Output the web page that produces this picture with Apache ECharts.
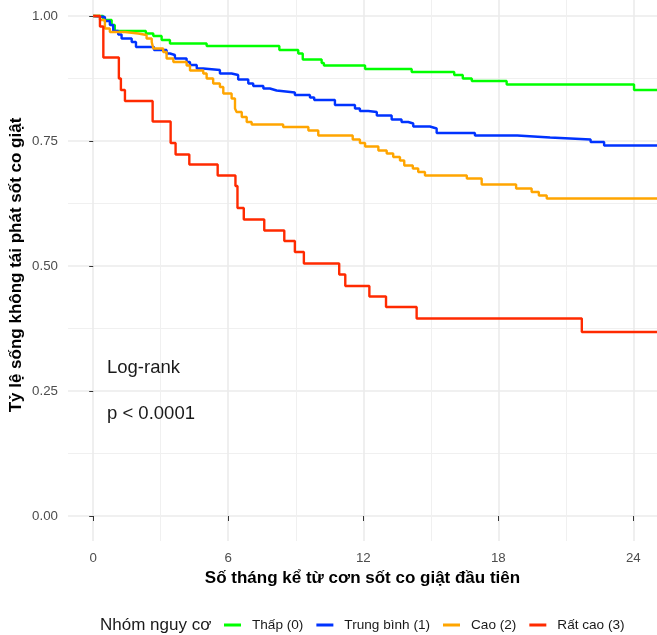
<!DOCTYPE html>
<html>
<head>
<meta charset="utf-8">
<script src="https://cdn.jsdelivr.net/npm/echarts@6/dist/echarts.min.js"></script>
<style>
html,body{margin:0;padding:0;background:#fff;}
#chart{width:657px;height:635px;}
</style>
</head>
<body>
<div id="chart"></div>
<script>
// ---- Data ----
const GROUP_NAMES = ['Thấp (0)', 'Trung bình (1)', 'Cao (2)', 'Rất cao (3)'];
const GROUP_COLORS = ['#00FF00', '#0033FF', '#FFA500', '#FF2A00'];

const TIME_LOW = [0, 0.44, 0.82, 0.96, 2.34, 2.67, 3.04, 3.41, 5.04, 8.27, 9.11, 9.31, 10.15, 10.25, 12.08, 14.15, 16.04, 16.42, 16.82, 18.37, 24.03, 25.5];
const SURV_LOW = [1, 0.992, 0.982, 0.970, 0.965, 0.960, 0.952, 0.945, 0.940, 0.932, 0.925, 0.913, 0.906, 0.901, 0.894, 0.888, 0.882, 0.875, 0.870, 0.863, 0.852, 0.852];

const TIME_MID = [0, 0.08, 0.52, 0.74, 0.89, 1.11, 1.26, 1.71, 1.9, 2.7, 3.26, 3.41, 3.63, 4.15, 4.3, 4.6, 4.89, 5.63, 6.15, 6.44, 6.89, 7.11, 7.56, 7.85, 8.15, 8.96, 9.63, 9.82, 10.74, 11.63, 11.85, 12.22, 12.6, 13.26, 13.7, 14.0, 14.22, 14.96, 15.26, 16.96, 18.84, 20.3, 22.1, 22.7, 25.5];
const SURV_MID = [1, 0.998, 0.990, 0.982, 0.970, 0.963, 0.955, 0.948, 0.938, 0.932, 0.925, 0.922, 0.915, 0.908, 0.902, 0.895, 0.892, 0.885, 0.882, 0.873, 0.865, 0.860, 0.855, 0.851, 0.847, 0.842, 0.837, 0.832, 0.822, 0.815, 0.810, 0.808, 0.801, 0.793, 0.788, 0.785, 0.779, 0.775, 0.766, 0.761, 0.757, 0.753, 0.748, 0.741, 0.741];

const TIME_HIGH = [0, 0.3, 0.52, 0.74, 1.41, 2.0, 2.37, 2.6, 2.67, 3.11, 3.26, 3.56, 4.15, 4.3, 4.89, 5.04, 5.33, 5.63, 5.78, 6.15, 6.3, 6.37, 6.6, 6.82, 7.04, 8.44, 9.56, 10.0, 11.53, 11.85, 12.08, 12.67, 13.04, 13.33, 13.63, 13.82, 14.2, 14.44, 14.74, 16.6, 17.26, 18.79, 19.48, 19.8, 20.15, 25.5];
const SURV_HIGH = [1, 0.992, 0.975, 0.968, 0.965, 0.962, 0.955, 0.948, 0.935, 0.928, 0.915, 0.908, 0.901, 0.891, 0.885, 0.875, 0.865, 0.858, 0.845, 0.835, 0.815, 0.808, 0.798, 0.788, 0.783, 0.778, 0.771, 0.761, 0.753, 0.746, 0.739, 0.731, 0.725, 0.718, 0.711, 0.701, 0.695, 0.688, 0.681, 0.675, 0.663, 0.655, 0.648, 0.641, 0.635, 0.635];

const TIME_VHIGH = [0, 0.3, 0.45, 1.14, 1.23, 1.41, 2.64, 3.44, 3.66, 4.27, 5.53, 6.32, 6.41, 6.69, 7.6, 8.49, 8.96, 9.36, 10.93, 11.2, 12.27, 13.01, 14.37, 21.71, 25.5];
const SURV_VHIGH = [1, 0.979, 0.917, 0.875, 0.852, 0.83, 0.789, 0.746, 0.723, 0.703, 0.681, 0.66, 0.616, 0.593, 0.571, 0.55, 0.528, 0.505, 0.483, 0.46, 0.439, 0.418, 0.395, 0.368, 0.368];

const X_TICKS = [0, 6, 12, 18, 24];
const X_MINOR = [3, 9, 15, 21];
const Y_TICKS = [0, 0.25, 0.5, 0.75, 1];
const Y_MINOR = [0.125, 0.375, 0.625, 0.875];

const X_TITLE = 'Số tháng kể từ cơn sốt co giật đầu tiên';
const Y_TITLE = 'Tỷ lệ sống không tái phát sốt co giật';
const LEGEND_TITLE = 'Nhóm nguy cơ';
const ANNOT_1 = 'Log-rank';
const ANNOT_2 = 'p < 0.0001';

// ---- Layout ----
const X_MIN = -1.12, X_MAX = 25.05;
const Y_MIN = -0.05, Y_MAX = 1.032;
const FONT = '"Liberation Sans", Arial, Helvetica, sans-serif';
const MAJOR = { color: '#EBEBEB', width: 1.6 };
const MINOR = { color: '#F0F0F0', width: 1 };

const times = [TIME_LOW, TIME_MID, TIME_HIGH, TIME_VHIGH];
const survs = [SURV_LOW, SURV_MID, SURV_HIGH, SURV_VHIGH];

const series = GROUP_NAMES.map((name, g) => ({
  name: name,
  type: 'line',
  step: 'end',
  xAxisIndex: 0,
  yAxisIndex: 0,
  showSymbol: false,
  symbol: 'none',
  clip: true,
  animation: false,
  z: 10 + g,
  color: GROUP_COLORS[g],
  lineStyle: { color: GROUP_COLORS[g], width: 2.4 },
  data: times[g].map((t, i) => [t, survs[g][i]])
}));

function hiddenAxis(min, max) {
  return { type: 'value', min: min, max: max, axisLine: { show: false }, axisTick: { show: false },
           axisLabel: { show: false }, splitLine: { show: false } };
}

const option = {
  animation: false,
  backgroundColor: '#ffffff',
  grid: { left: 68, right: 0, top: 0, bottom: 94, containLabel: false },
  xAxis: [
    hiddenAxis(X_MIN, X_MAX),
    { type: 'value', min: X_MIN, max: X_MAX, position: 'bottom',
      axisLine: { show: false },
      axisTick: { show: true, customValues: X_TICKS, length: 5, lineStyle: { color: '#333333', width: 1 } },
      axisLabel: { show: true, customValues: X_TICKS, margin: 11, color: '#4D4D4D', fontSize: 13.3, fontFamily: FONT,
                   formatter: v => String(v) },
      splitLine: { show: true, lineStyle: MAJOR } },
    { type: 'value', min: X_MIN, max: X_MAX, position: 'bottom', offset: 0,
      axisLine: { show: false },
      axisTick: { show: false, customValues: X_MINOR },
      axisLabel: { show: false, customValues: X_MINOR },
      splitLine: { show: true, lineStyle: MINOR } }
  ],
  yAxis: [
    hiddenAxis(Y_MIN, Y_MAX),
    { type: 'value', min: Y_MIN, max: Y_MAX, position: 'left',
      axisLine: { show: false },
      axisTick: { show: true, customValues: Y_TICKS, length: 4, lineStyle: { color: '#333333', width: 1 } },
      axisLabel: { show: true, customValues: Y_TICKS, margin: 10, color: '#4D4D4D', fontSize: 13.3, fontFamily: FONT,
                   formatter: v => v.toFixed(2) },
      splitLine: { show: true, lineStyle: MAJOR } },
    { type: 'value', min: Y_MIN, max: Y_MAX, position: 'left', offset: 0,
      axisLine: { show: false },
      axisTick: { show: false, customValues: Y_MINOR },
      axisLabel: { show: false, customValues: Y_MINOR },
      splitLine: { show: true, lineStyle: MINOR } }
  ],
  legend: {
    data: GROUP_NAMES,
    left: 224,
    top: 618,
    padding: 0,
    orient: 'horizontal',
    itemWidth: 17,
    itemHeight: 3,
    itemGap: 13,
    icon: 'rect',
    selectedMode: false,
    textStyle: { fontFamily: FONT, fontSize: 13.6, color: '#1A1A1A', padding: [0, 0, 0, 6] }
  },
  graphic: [
    { type: 'text', x: 362.5, y: 578, z: 100,
      style: { text: X_TITLE, font: 'bold 17px ' + FONT, fill: '#000000', align: 'center', verticalAlign: 'middle' } },
    { type: 'text', x: 16, y: 265, rotation: Math.PI / 2, z: 100,
      style: { text: Y_TITLE, font: 'bold 17px ' + FONT, fill: '#000000', align: 'center', verticalAlign: 'middle' } },
    { type: 'text', x: 100, y: 625, z: 100,
      style: { text: LEGEND_TITLE, font: '17px ' + FONT, fill: '#1A1A1A', align: 'left', verticalAlign: 'middle' } },
    { type: 'text', x: 107, y: 368, z: 100,
      style: { text: ANNOT_1, font: '18.5px ' + FONT, fill: '#1A1A1A', align: 'left', verticalAlign: 'middle' } },
    { type: 'text', x: 107, y: 414, z: 100,
      style: { text: ANNOT_2, font: '18.5px ' + FONT, fill: '#1A1A1A', align: 'left', verticalAlign: 'middle' } }
  ],
  series: series
};

const chart = echarts.init(document.getElementById('chart'), null, { renderer: 'canvas' });
chart.setOption(option);
</script>
</body>
</html>
